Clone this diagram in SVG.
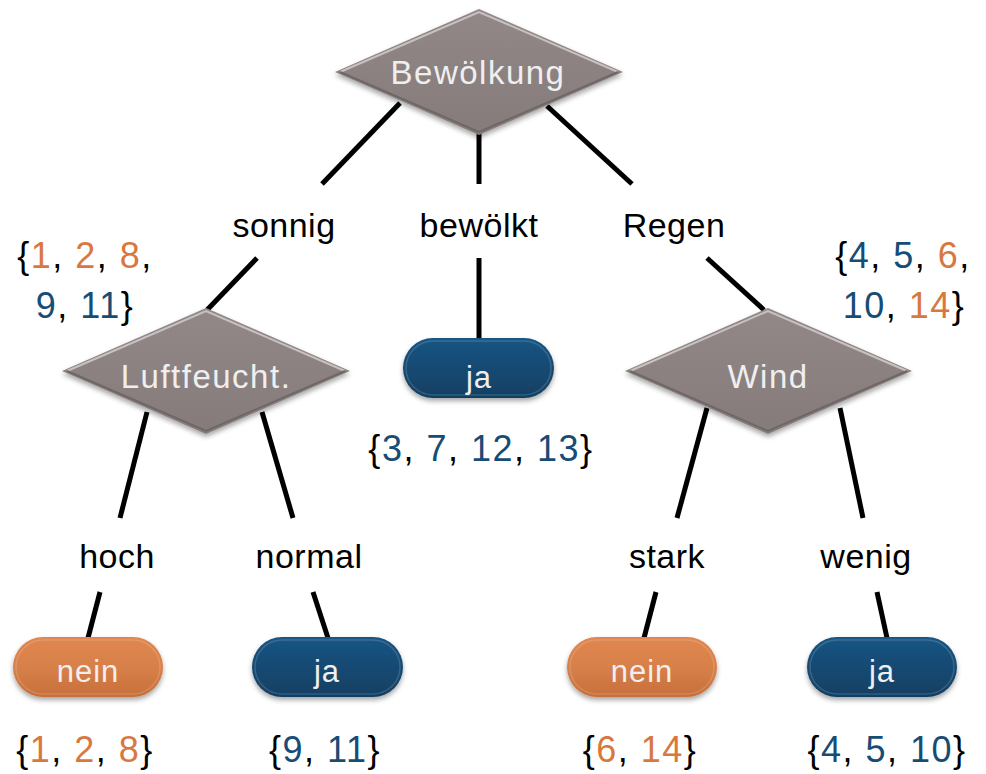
<svg xmlns="http://www.w3.org/2000/svg" width="986" height="774" viewBox="0 0 986 774">
<style>
.lbl{font-family:"Liberation Sans",Arial,sans-serif;font-size:34px;fill:#000;text-anchor:middle;letter-spacing:0.5px}
.set{font-family:"Liberation Sans",Arial,sans-serif;font-size:36px;fill:#000;text-anchor:middle;letter-spacing:1.5px}
.nt{font-family:"Liberation Sans",Arial,sans-serif;font-size:33px;fill:#efefef;text-anchor:middle;letter-spacing:1.5px}
.pt{font-family:"Liberation Sans",Arial,sans-serif;font-size:31px;fill:#efefef;text-anchor:middle;letter-spacing:1px}
.o{fill:#D8783E}
.b{fill:#174C75}
.dia{fill:url(#gd);filter:url(#sh)}
.hi{fill:none;stroke:#c9c1c1;stroke-width:2}
.lo{fill:none;stroke:#6f6666;stroke-width:2}
.pb{fill:url(#gb);filter:url(#sh)}
.po{fill:url(#go);filter:url(#sh)}
.ph{fill:none;stroke:#ffffff;stroke-opacity:0.15;stroke-width:1.5}
.con line{stroke:#000;stroke-width:5}
</style>
<defs>
<filter id="sh" x="-20%" y="-20%" width="140%" height="150%">
<feDropShadow dx="0" dy="3" stdDeviation="2.5" flood-color="#000" flood-opacity="0.35"/>
</filter>
<linearGradient id="gd" x1="0" y1="0" x2="0" y2="1">
<stop offset="0" stop-color="#928888"/>
<stop offset="1" stop-color="#857b7b"/>
</linearGradient>
<linearGradient id="gb" x1="0" y1="0" x2="0" y2="1">
<stop offset="0" stop-color="#1a5583"/>
<stop offset="0.5" stop-color="#154a73"/>
<stop offset="1" stop-color="#113f62"/>
</linearGradient>
<linearGradient id="go" x1="0" y1="0" x2="0" y2="1">
<stop offset="0" stop-color="#df874f"/>
<stop offset="0.5" stop-color="#d8804a"/>
<stop offset="1" stop-color="#c76f3a"/>
</linearGradient>
</defs>
<rect width="986" height="774" fill="#ffffff"/>

<g id="connectors" class="con">
<line x1="400" y1="103" x2="322" y2="184"/>
<line x1="479" y1="133" x2="479" y2="184"/>
<line x1="547" y1="106" x2="632" y2="184"/>
<line x1="257" y1="258" x2="207" y2="310"/>
<line x1="479" y1="258" x2="479" y2="340"/>
<line x1="707" y1="258" x2="764" y2="310"/>
<line x1="147" y1="412" x2="120" y2="518"/>
<line x1="262" y1="412" x2="293" y2="518"/>
<line x1="100" y1="592" x2="88" y2="638"/>
<line x1="313" y1="592" x2="328" y2="638"/>
<line x1="707" y1="408" x2="677" y2="518"/>
<line x1="840" y1="408" x2="863" y2="518"/>
<line x1="656" y1="592" x2="644" y2="638"/>
<line x1="877" y1="592" x2="887" y2="638"/>
</g>

<g id="edge-labels">
<text class="lbl" x="284" y="237">sonnig</text>
<text class="lbl" x="479" y="237">bewölkt</text>
<text class="lbl" x="674" y="237">Regen</text>
<text class="lbl" x="117" y="568">hoch</text>
<text class="lbl" x="309" y="568">normal</text>
<text class="lbl" x="667" y="568">stark</text>
<text class="lbl" x="866" y="568">wenig</text>
</g>

<g id="n-bewoelkung">
<polygon class="dia" points="335,72 479,9 623,72 479,135"/>
<polyline class="hi" points="340,72 479,12 618,72"/>
<polyline class="lo" points="340,72 479,132 618,72"/>
<text class="nt" x="478" y="84">Bewölkung</text>
</g>

<g id="n-luftfeucht">
<polygon class="dia" points="62,371 206,308 350,371 206,434"/>
<polyline class="hi" points="67,371 206,311 345,371"/>
<polyline class="lo" points="67,371 206,431 345,371"/>
<text class="nt" x="206" y="388">Luftfeucht.</text>
</g>

<g id="n-wind">
<polygon class="dia" points="625,371 768,308 912,371 768,434"/>
<polyline class="hi" points="630,371 768,311 907,371"/>
<polyline class="lo" points="630,371 768,431 907,371"/>
<text class="nt" x="768" y="388">Wind</text>
</g>

<g id="n-ja-mid">
<rect class="pb" x="403" y="338" width="151" height="60" rx="30"/>
<rect class="ph" x="406" y="341" width="145" height="54" rx="27"/>
<text class="pt" x="479" y="388">ja</text>
</g>

<g id="n-nein-left">
<rect class="po" x="13" y="637" width="150" height="60" rx="30"/>
<rect class="ph" x="16" y="640" width="144" height="54" rx="27"/>
<text class="pt" x="88" y="682">nein</text>
</g>

<g id="n-ja-left">
<rect class="pb" x="252" y="637" width="151" height="60" rx="30"/>
<rect class="ph" x="255" y="640" width="145" height="54" rx="27"/>
<text class="pt" x="327" y="682">ja</text>
</g>

<g id="n-nein-right">
<rect class="po" x="567" y="637" width="150" height="60" rx="30"/>
<rect class="ph" x="570" y="640" width="144" height="54" rx="27"/>
<text class="pt" x="642" y="682">nein</text>
</g>

<g id="n-ja-right">
<rect class="pb" x="807" y="637" width="150" height="60" rx="30"/>
<rect class="ph" x="810" y="640" width="144" height="54" rx="27"/>
<text class="pt" x="882" y="682">ja</text>
</g>

<g id="sets">
<text class="set" x="85" y="268">{<tspan class="o">1</tspan>, <tspan class="o">2</tspan>, <tspan class="o">8</tspan>,</text>
<text class="set" x="85" y="318"><tspan class="b">9</tspan>, <tspan class="b">11</tspan>}</text>
<text class="set" x="903" y="268">{<tspan class="b">4</tspan>, <tspan class="b">5</tspan>, <tspan class="o">6</tspan>,</text>
<text class="set" x="904" y="318"><tspan class="b">10</tspan>, <tspan class="o">14</tspan>}</text>
<text class="set" x="481" y="461">{<tspan class="b">3</tspan>, <tspan class="b">7</tspan>, <tspan class="b">12</tspan>, <tspan class="b">13</tspan>}</text>
<text class="set" x="85" y="762">{<tspan class="o">1</tspan>, <tspan class="o">2</tspan>, <tspan class="o">8</tspan>}</text>
<text class="set" x="325" y="762">{<tspan class="b">9</tspan>, <tspan class="b">11</tspan>}</text>
<text class="set" x="640" y="762">{<tspan class="o">6</tspan>, <tspan class="o">14</tspan>}</text>
<text class="set" x="887" y="762">{<tspan class="b">4</tspan>, <tspan class="b">5</tspan>, <tspan class="b">10</tspan>}</text>
</g>
</svg>
